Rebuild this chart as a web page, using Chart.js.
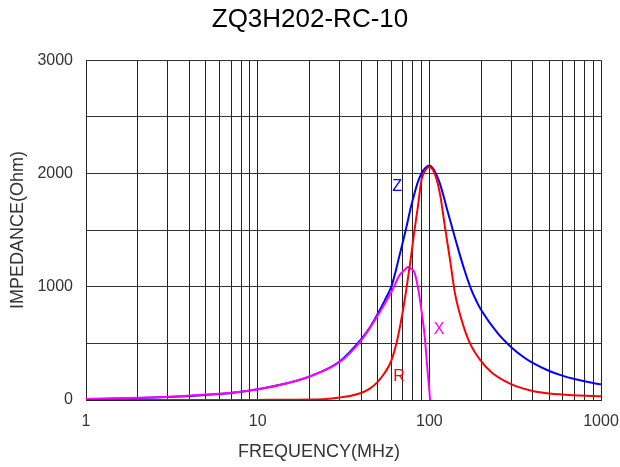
<!DOCTYPE html>
<html>
<head>
<meta charset="utf-8">
<script src="https://cdn.jsdelivr.net/npm/chart.js@4.4.1/dist/chart.umd.min.js"></script>
<style>
  html, body { margin: 0; padding: 0; background: #fff; }
  #wrap { width: 620px; height: 467px; }
</style>
</head>
<body>
<div id="wrap"><canvas id="c" width="620" height="467"></canvas></div>
<script>
// ---- data ----
const titleText = 'ZQ3H202-RC-10';
const xTitle = 'FREQUENCY(MHz)';
const yTitle = 'IMPEDANCE(Ohm)';

const freqZ = [1,2,3,5,7,10,15,20,30,40,45,50,55,60,63,66,70,74,78,82,86,90,95,100,105,110,115,120,126,132,140,150,160,176,190,200,250,300,350,400,500,600,700,800,900,1000];
const valZ  = [8,17,26,45,62,95,150,207,340,535,640,760,880,1000,1110,1235,1390,1545,1700,1826,1930,2000,2050,2070,2045,1990,1915,1820,1700,1590,1450,1290,1150,970,860,797,590,466,384,327,256,213,185,165,150,138];

const freqX = [1,2,3,5,7,10,15,20,30,40,50,60,67,72,75,78,82,86,90,94,97,100,101];
const valX  = [8,19,28,48,64,95,150,207,335,525,745,950,1100,1150,1174,1160,1125,985,790,560,310,80,0];

const freqR = [1,5,10,15,20,25,30,35,40,45,50,55,60,65,70,74,78,81.5,86,90,95,100,104,108,112,116,123,132,141,154,172,197,230,276,322,400,500,700,1000];
const valR  = [0,0,1,2,4,9,22,38,62,100,160,240,345,530,780,1010,1250,1473,1720,1943,2030,2060,2040,1990,1910,1800,1540,1238,944,709,504,357,245,166,120,80,58,42,33];

const gridFreqs  = [1,2,3,4,5,6,7,8,9,10,20,30,40,50,60,70,80,90,100,200,300,400,500,600,700,800,900,1000];
const majorFreqs = [1,10,100,1000];
const yLabelVals = [0,1000,2000,3000];

const labelText = ['Z','X','R'];
const labelFreq = [65,114,66.5];
const labelVal  = [1880,620,207];
const labelColor = ['#0000ff','#ff00ff','#ff0000'];

const toPts = (xs, ys) => xs.map((x, i) => ({x: x, y: ys[i]}));

const FONT = "'Liberation Sans', Arial, sans-serif";

const textPlugin = {
  id: 'textPlugin',
  afterDatasetsDraw(chart) {
    const ctx = chart.ctx;
    const xs = chart.scales.x, ys = chart.scales.y;
    ctx.save();
    ctx.font = '16px ' + FONT;
    ctx.textAlign = 'center';
    ctx.textBaseline = 'middle';
    for (let i = 0; i < labelText.length; i++) {
      ctx.fillStyle = labelColor[i];
      ctx.fillText(labelText[i], xs.getPixelForValue(labelFreq[i]), ys.getPixelForValue(labelVal[i]));
    }
    ctx.restore();
  },
  afterDraw(chart) {
    const ctx = chart.ctx;
    const a = chart.chartArea;
    ctx.save();
    ctx.fillStyle = '#333';
    ctx.font = '18px ' + FONT;
    ctx.textAlign = 'center';
    ctx.textBaseline = 'middle';
    ctx.fillText(xTitle, 319, 452);
    ctx.translate(18, (a.top + a.bottom) / 2);
    ctx.rotate(-Math.PI / 2);
    ctx.fillText(yTitle, 0, 0);
    ctx.restore();
  }
};

new Chart(document.getElementById('c'), {
  type: 'line',
  data: {
    datasets: [
      { label: 'R', data: toPts(freqR, valR), borderColor: '#ff0000', order: 0 },
      { label: 'X', data: toPts(freqX, valX), borderColor: '#ff00ff', order: 1 },
      { label: 'Z', data: toPts(freqZ, valZ), borderColor: '#0000ff', order: 2 }
    ]
  },
  options: {
    responsive: false,
    animation: false,
    devicePixelRatio: 1,
    elements: {
      point: { radius: 0 },
      line: { borderWidth: 2, cubicInterpolationMode: 'monotone', fill: false }
    },
    layout: { padding: { left: 0, right: 0, top: 0, bottom: 0 } },
    plugins: {
      legend: { display: false },
      tooltip: { enabled: false },
      title: {
        display: true,
        text: titleText,
        color: '#000',
        font: { family: FONT, size: 26, weight: 'normal' },
        padding: { top: 4, bottom: 25 }
      }
    },
    scales: {
      x: {
        type: 'logarithmic',
        min: 1, max: 1000,
        afterBuildTicks: (s) => { s.ticks = gridFreqs.map(v => ({ value: v })); },
        afterFit: (s) => { s.height = 67; s.paddingRight = 19; s.paddingLeft = 0; },
        ticks: {
          autoSkip: false, maxRotation: 0, minRotation: 0,
          padding: 12, color: '#333',
          font: { family: FONT, size: 16 },
          callback: (v) => majorFreqs.includes(v) ? String(v) : ''
        },
        grid: { color: '#222', lineWidth: 1, drawTicks: false },
        border: { color: '#222', width: 1 }
      },
      y: {
        type: 'linear',
        min: 0, max: 3000,
        afterFit: (s) => { s.width = 86; },
        ticks: {
          stepSize: 500, padding: 13, color: '#333',
          font: { family: FONT, size: 16 },
          callback: (v) => yLabelVals.includes(v) ? String(v) : ''
        },
        grid: { color: '#333', lineWidth: 1, drawTicks: false },
        border: { color: '#222', width: 1 }
      }
    }
  },
  plugins: [textPlugin]
});
</script>
</body>
</html>
